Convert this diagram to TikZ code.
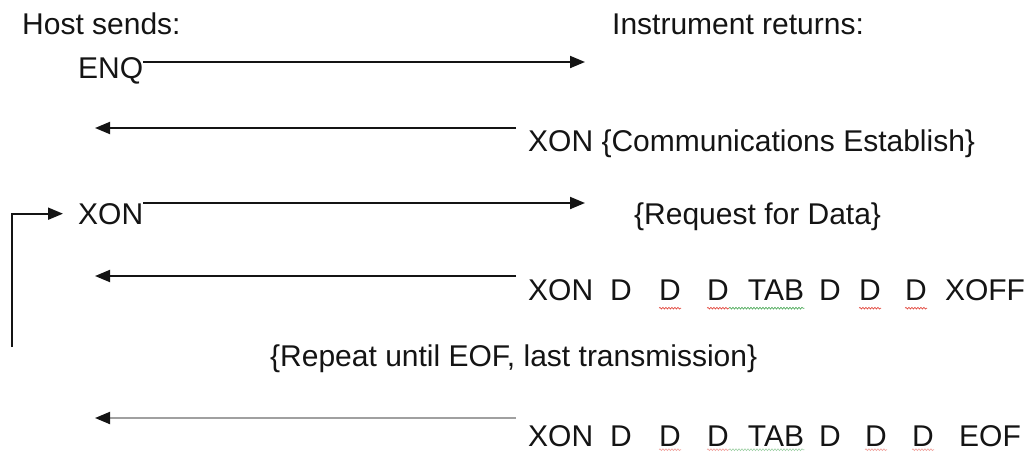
\documentclass[tikz,border=0pt]{standalone}
\usepackage{fontspec}
\setmainfont{Liberation Sans}
\usetikzlibrary{arrows.meta,calc,decorations.pathmorphing}
\definecolor{ink}{HTML}{141414}
\definecolor{faint}{HTML}{A0A0A0}
\definecolor{spellred}{HTML}{E03C31}
\definecolor{spellgreen}{HTML}{3FA34D}

\begin{document}
\begin{tikzpicture}[x=1pt,y=-1pt,>={Triangle[length=15pt,width=12pt]},
		txt/.style={anchor=base west,inner sep=0pt,text=ink,font=\fontsize{30}{36}\selectfont},
		tok/.style={anchor=base,inner sep=0pt,text=ink,font=\fontsize{30}{36}\selectfont},
		msg/.style={->,line width=1.9pt,draw=ink},
		wavy/.style={decorate,decoration={snake,amplitude=0.9pt,segment length=3pt},line width=0.6pt}]
			\useasboundingbox (0,0) rectangle (1026,451);
			% headings
			\node[txt] (host) at (22,34) {Host sends:};
			\node[txt] (instr) at (612,34) {Instrument returns:};
			% ENQ
			\node[txt] (enq) at (78,78) {ENQ};
			\coordinate (enq_tip) at (585,62);
			\draw[msg] (enq.east |- enq_tip) -- (enq_tip);
			% XON back
			\node[txt] (xon_a) at (528,151) {XON \{Communications Establish\}};
			\coordinate (tip_a) at (95,128);
			\draw[msg] ($(xon_a.west |- tip_a)+(-12,0)$) -- (tip_a);
			% request
			\node[txt] (xon_b) at (78,224) {XON};
			\node[txt] (req) at (634,224) {\{Request for Data\}};
			\coordinate (tip_b) at (585,203);
			\draw[msg] (xon_b.east |- tip_b) -- (tip_b);
			\coordinate (loop_foot) at (12,347);
			\draw[msg] (loop_foot) |- ([xshift=-15pt]xon_b.west);
			% data block
			\node[txt] (xon_c) at (528,300) {XON};
			\node[tok] (d_c1) at (621,300) {D};
			\node[tok] (d_c2) at (670,300) {D};
			\node[tok] (d_c3) at (718,300) {D};
			\node[tok] (tab_c) at (776,300) {TAB};
			\node[tok] (d_c4) at (830,300) {D};
			\node[tok] (d_c5) at (870,300) {D};
			\node[tok] (d_c6) at (916,300) {D};
			\node[tok] (xoff) at (985,300) {XOFF};
			\coordinate (tip_c) at (95,276);
			\draw[msg] ($(xon_c.west |- tip_c)+(-12,0)$) -- (tip_c);
			\draw[wavy,spellred] ($(d_c2.south west)+(0,8)$) -- ($(d_c2.south east)+(0,8)$);
			\draw[wavy,spellred] ($(d_c3.south west)+(0,8)$) -- ($(d_c3.south east)+(0,8)$);
			\draw[wavy,spellgreen] ($(d_c3.south east)+(0,8)$) -- ($(tab_c.south east)+(0,8)$);
			\draw[wavy,spellred] ($(d_c5.south west)+(0,8)$) -- ($(d_c5.south east)+(0,8)$);
			\draw[wavy,spellred] ($(d_c6.south west)+(0,8)$) -- ($(d_c6.south east)+(0,8)$);
			% repeat note
			\node[txt] (repeat) at (270,366) {\{Repeat until EOF, last transmission\}};
			% last block
			\node[txt] (xon_d) at (528,446) {XON};
			\node[tok] (d_d1) at (621,446) {D};
			\node[tok] (d_d2) at (670,446) {D};
			\node[tok] (d_d3) at (718,446) {D};
			\node[tok] (tab_d) at (776,446) {TAB};
			\node[tok] (d_d4) at (830,446) {D};
			\node[tok] (d_d5) at (876,446) {D};
			\node[tok] (d_d6) at (923,446) {D};
			\node[tok] (eof) at (990,446) {EOF};
			\coordinate (tip_d) at (95,418);
			\draw[msg,draw=faint,-{Triangle[length=15pt,width=12pt,color=ink]}] ($(xon_d.west |- tip_d)+(-12,0)$) -- (tip_d);
			\draw[wavy,spellred!50] ($(d_d2.south west)+(0,3.5)$) -- ($(d_d2.south east)+(0,3.5)$);
			\draw[wavy,spellred!50] ($(d_d3.south west)+(0,3.5)$) -- ($(d_d3.south east)+(0,3.5)$);
			\draw[wavy,spellgreen!50] ($(d_d3.south east)+(0,3.5)$) -- ($(tab_d.south east)+(0,3.5)$);
			\draw[wavy,spellred!50] ($(d_d5.south west)+(0,3.5)$) -- ($(d_d5.south east)+(0,3.5)$);
			\draw[wavy,spellred!50] ($(d_d6.south west)+(0,3.5)$) -- ($(d_d6.south east)+(0,3.5)$);
		\end{tikzpicture}
\end{document}
